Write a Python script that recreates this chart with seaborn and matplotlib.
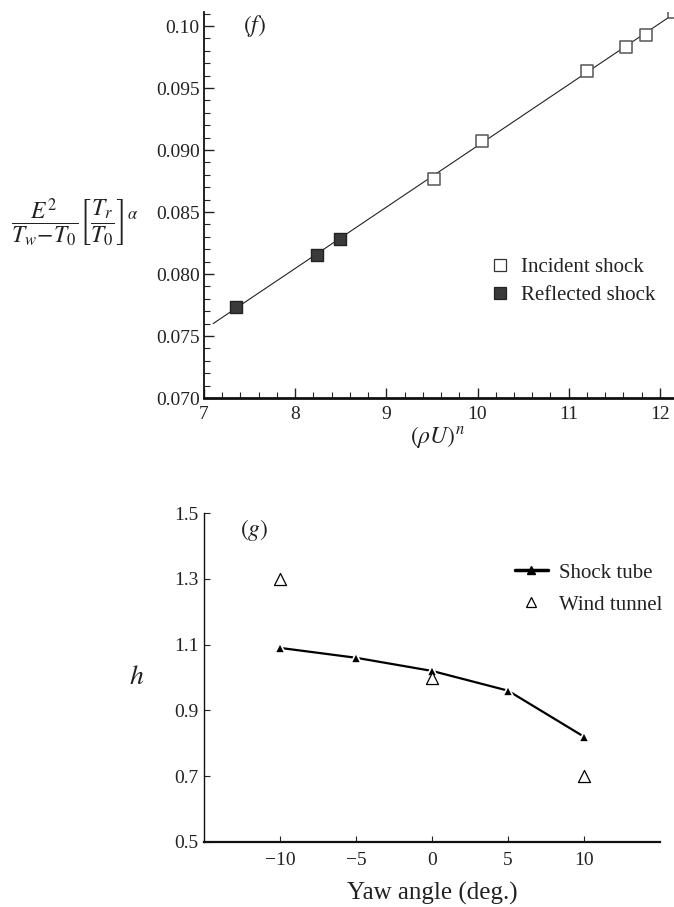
import numpy as np
import pandas as pd
import matplotlib
matplotlib.use("Agg")
import matplotlib.pyplot as plt
from matplotlib.lines import Line2D
from matplotlib.ticker import MultipleLocator
import seaborn as sns

# ---------------- data (f) ----------------
incident_x = [9.52, 10.05, 11.20, 11.63, 11.85, 12.15]
incident_y = [0.0877, 0.0907, 0.0964, 0.0983, 0.0993, 0.1011]
reflected_x = [7.35, 8.24, 8.49]
reflected_y = [0.0773, 0.0815, 0.0828]
fit_x = [7.1, 12.3]
fit_y = [0.0760, 0.1017]
f_xticks = [7, 8, 9, 10, 11, 12]
f_yticks = [0.070, 0.075, 0.080, 0.085, 0.090, 0.095, 0.100]
f_yticklabels = ["0.070", "0.075", "0.080", "0.085", "0.090", "0.095", "0.10"]

# ---------------- data (g) ----------------
yaw_shock = [-10, -5, 0, 5, 10]
h_shock = [1.09, 1.06, 1.02, 0.96, 0.82]
yaw_wind = [-10, 0, 10]
h_wind = [1.30, 1.00, 0.70]
g_xticks = [-10, -5, 0, 5, 10]
g_yticks = [0.5, 0.7, 0.9, 1.1, 1.3, 1.5]
g_yticklabels = ["0.5", "0.7", "0.9", "1.1", "1.3", "1.5"]

sns.set_theme(style="ticks")
plt.rcParams["font.family"] = ["Liberation Serif", "DejaVu Serif"]
plt.rcParams["mathtext.fontset"] = "stix"

W, H = 674, 907
fig = plt.figure(figsize=(W / 100, H / 100), dpi=100)

def box(l, t, r, b):
    return [l / W, 1 - b / H, (r - l) / W, (b - t) / H]

# ======== panel (f) ========
ax1 = fig.add_axes(box(204, 12, 674, 398))
df_fit = pd.DataFrame({"x": fit_x, "y": fit_y})
sns.lineplot(data=df_fit, x="x", y="y", ax=ax1, color="#222222", lw=0.8, legend=False)
df_inc = pd.DataFrame({"x": incident_x, "y": incident_y})
df_ref = pd.DataFrame({"x": reflected_x, "y": reflected_y})
sns.scatterplot(data=df_inc, x="x", y="y", ax=ax1, marker="s", s=85,
                facecolor="white", edgecolor="#555555", linewidth=1.1, zorder=3)
sns.scatterplot(data=df_ref, x="x", y="y", ax=ax1, marker="s", s=85,
                facecolor="#3a3a3a", edgecolor="#222222", linewidth=1.0, zorder=3)
ax1.set_xlim(7, 12.155)
ax1.set_ylim(0.070, 0.070 + 386 / 12400)
ax1.set_xticks(f_xticks)
ax1.set_yticks(f_yticks)
ax1.set_yticklabels(f_yticklabels)
ax1.xaxis.set_minor_locator(MultipleLocator(0.2))
ax1.yaxis.set_minor_locator(MultipleLocator(0.001))
ax1.tick_params(axis="both", which="major", direction="in", length=7, width=1.0,
                labelsize=14, colors="#222222")
ax1.tick_params(axis="both", which="minor", direction="in", length=4, width=0.8,
                colors="#222222")
ax1.tick_params(axis="x", pad=6)
ax1.tick_params(axis="y", pad=3)
for s in ["top", "right"]:
    ax1.spines[s].set_visible(False)
ax1.spines["bottom"].set_linewidth(2.0)
ax1.spines["left"].set_linewidth(1.3)
ax1.spines["bottom"].set_color("#111111")
ax1.spines["left"].set_color("#111111")
ax1.set_xlabel(r"$(\rho U)^n$", fontsize=17, color="#222222", va="center")
ax1.xaxis.set_label_coords(0.496, -0.10)
ax1.set_ylabel(r"$\dfrac{E^2}{T_w\!-\!T_0}\left[\dfrac{T_r}{T_0}\right]^{\alpha}$",
               fontsize=17, rotation=0, ha="center", va="center", color="#222222")
ax1.yaxis.set_label_coords(-0.274, 0.455)
ax1.text(0.107, 0.965, r"$(f)$", transform=ax1.transAxes, fontsize=17,
         ha="center", va="center", color="#222222")
h_inc = Line2D([], [], ls="none", marker="s", ms=8, mfc="white", mec="#333333", mew=0.9)
h_ref = Line2D([], [], ls="none", marker="s", ms=8, mfc="#3a3a3a", mec="#222222", mew=0.9)
ax1.legend([h_inc, h_ref], ["Incident shock", "Reflected shock"], frameon=False,
           fontsize=15, loc="center left", bbox_to_anchor=(0.572, 0.303),
           handlelength=0.8, handletextpad=0.6, labelspacing=0.4,
           labelcolor="#222222")

# ======== panel (g) ========
ax2 = fig.add_axes(box(204, 513, 660, 842))
df_shock = pd.DataFrame({"yaw": yaw_shock, "h": h_shock})
df_wind = pd.DataFrame({"yaw": yaw_wind, "h": h_wind})
sns.lineplot(data=df_shock, x="yaw", y="h", ax=ax2, color="black", lw=1.6,
             marker="^", markersize=7, markerfacecolor="black",
             markeredgecolor="white", markeredgewidth=1.2, legend=False)
sns.scatterplot(data=df_wind, x="yaw", y="h", ax=ax2, marker="^", s=75,
                facecolor="white", edgecolor="black", linewidth=0.9, zorder=4)
ax2.set_xlim(-15, 15)
ax2.set_ylim(0.5, 1.5)
ax2.set_xticks(g_xticks)
ax2.set_yticks(g_yticks)
ax2.set_yticklabels(g_yticklabels)
ax2.tick_params(axis="both", which="major", direction="in", length=4, width=0.8,
                labelsize=14, colors="#222222")
ax2.tick_params(axis="x", pad=7)
ax2.tick_params(axis="y", pad=4)
for s in ["top", "right"]:
    ax2.spines[s].set_visible(False)
ax2.spines["bottom"].set_linewidth(1.6)
ax2.spines["left"].set_linewidth(1.0)
ax2.spines["bottom"].set_color("#111111")
ax2.spines["left"].set_color("#111111")
ax2.set_xlabel("Yaw angle (deg.)", fontsize=18, color="#222222", va="center")
ax2.xaxis.set_label_coords(0.50, -0.155)
ax2.set_ylabel(r"$h$", fontsize=20, rotation=0, ha="center", va="center",
               color="#222222")
ax2.yaxis.set_label_coords(-0.147, 0.50)
ax2.text(0.11, 0.948, r"$(g)$", transform=ax2.transAxes, fontsize=17,
         ha="center", va="center", color="#222222")
h_st = Line2D([], [], color="black", lw=2.5, marker="^", ms=6, mfc="black", mec="black")
h_wt = Line2D([], [], ls="none", marker="^", ms=7, mfc="white", mec="black", mew=0.9)
ax2.legend([h_st, h_wt], ["Shock tube", "Wind tunnel"], frameon=False,
           fontsize=15, loc="upper left", bbox_to_anchor=(0.64, 0.905),
           handlelength=1.6, handletextpad=0.55, labelspacing=0.6,
           labelcolor="#222222")

fig.savefig("out.png", dpi=100)
